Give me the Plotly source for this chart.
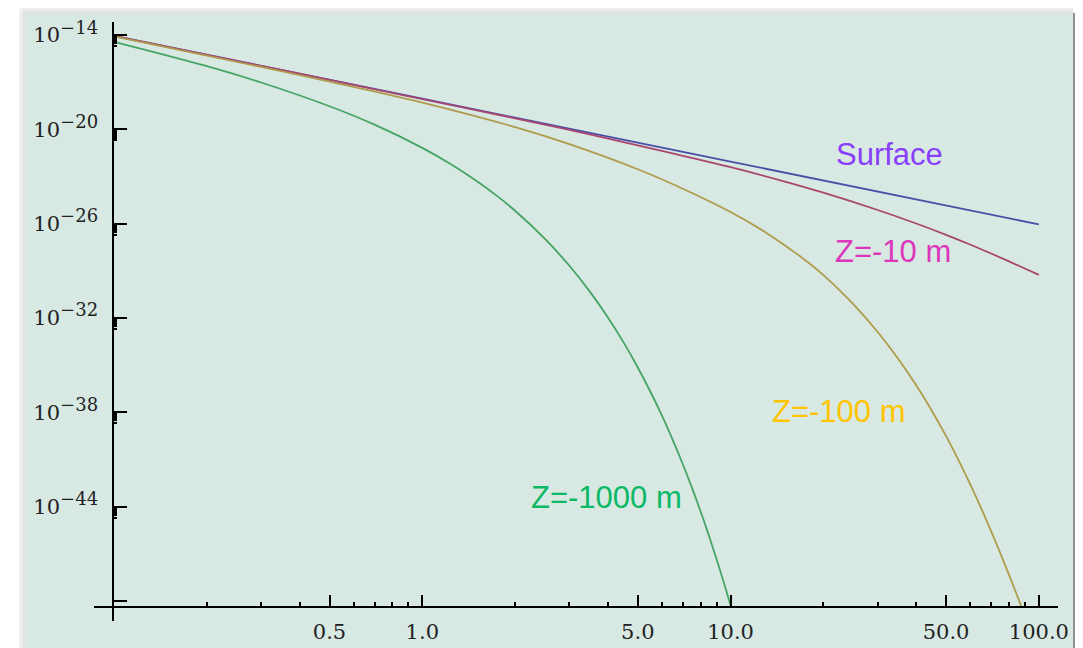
import plotly.graph_objects as go

# ---------------- data ----------------
# x: quantity on the log horizontal axis; *_log: log10 of the plotted quantity
surface_x = [0.1, 1.0, 10.0, 100.0]
surface_log = [-14.05, -18.05, -22.05, -26.05]

z10_x = [0.1, 0.3, 0.5, 1, 2, 3, 5, 7, 10, 15, 20, 30, 40, 50, 60, 70, 80, 90, 100]
z10_log = [-14.05, -15.96, -16.85, -18.07, -19.30, -20.04, -21.02, -21.68, -22.41,
           -23.32, -24.03, -25.13, -25.99, -26.71, -27.34, -27.90, -28.40, -28.85, -29.26]

z100_x = [0.1, 0.3, 0.5, 1, 2, 3, 5, 7, 10, 13, 17, 20, 25, 30, 35, 40, 45, 50,
          55, 60, 65, 70, 75, 80, 85, 87.9]
z100_log = [-14.08, -16.03, -16.96, -18.30, -19.86, -20.94, -22.54, -23.78, -25.26,
            -26.56, -28.15, -29.27, -31.12, -32.89, -34.61, -36.28, -37.92, -39.52,
            -41.09, -42.62, -44.11, -45.56, -46.97, -48.34, -49.66, -50.41]

z1000_x = [0.1, 0.2, 0.3, 0.5, 0.7, 1.0, 1.25, 1.5, 1.75, 2.0, 2.5, 3.0, 3.5, 4.0,
           4.5, 5.0, 5.5, 6.0, 6.5, 7.0, 7.5, 8.0, 8.5, 9.0, 9.5, 10.04]
z1000_log = [-14.43, -15.98, -17.02, -18.53, -19.70, -21.18, -22.27, -23.29, -24.25,
             -25.18, -26.97, -28.68, -30.34, -31.97, -33.57, -35.15, -36.71, -38.25,
             -39.79, -41.31, -42.83, -44.33, -45.83, -47.33, -48.82, -50.42]

x_tick_vals = [0.5, 1, 5, 10, 50, 100]
x_tick_text = ["0.5", "1.0", "5.0", "10.0", "50.0", "100.0"]
y_tick_exps = [-14, -20, -26, -32, -38, -44, -50]
y_label_exps = [-14, -20, -26, -32, -38, -44]

series_names = ["Surface", "Z=-10 m", "Z=-100 m", "Z=-1000 m"]

# ---------------- layout geometry ----------------
OFF = 8                      # page body margin of the html page
W, H = 1083 - OFF, 648 - OFF
ML, MR, MT, MB = 94 - OFF, 25, 22 - OFF, 27
PW, PH = W - ML - MR, H - MT - MB

BG = "#d7e9e2"
line_colors = ["#4a4fa6", "#a8466f", "#b09b4c", "#46a466"]
text_colors = ["#8a3ffa", "#dc36bc", "#ffc400", "#0db866"]


def px_x(px):  # page pixel -> paper fraction
    return (px - OFF - ML) / PW


def px_y(py):
    return (H - MB - (py - OFF)) / PH


fig = go.Figure()
all_x = [surface_x, z10_x, z100_x, z1000_x]
all_l = [surface_log, z10_log, z100_log, z1000_log]
for xs, ls, col, name in zip(all_x, all_l, line_colors, series_names):
    fig.add_trace(go.Scatter(
        x=xs, y=[10 ** v for v in ls], mode="lines", name=name,
        line=dict(color=col, width=1.8, shape="spline", smoothing=1.0),
        showlegend=False, hoverinfo="skip"))

# series labels (log10 axis units)
label_pos = [(1.514, -21.63), (1.527, -27.77), (1.350, -37.95), (0.5975, -43.45)]
for (lx, ly), name, col in zip(label_pos, series_names, text_colors):
    fig.add_annotation(x=lx, y=ly, xref="x", yref="y", text=name, showarrow=False,
                       font=dict(family="Liberation Sans, Arial, sans-serif", size=31, color=col))

# minor ticks
x_minor = []
for dec in [0.1, 1, 10]:
    for k in range(2, 10):
        v = k * dec
        if round(v, 6) not in x_tick_vals:
            x_minor.append(v)
y_minor = []
for e in y_label_exps:
    for k in range(2, 10):
        y_minor.append(k * 10.0 ** (e - 1))

serif = "DejaVu Serif, Liberation Serif, serif"

fig.update_xaxes(
    type="log", range=[-1.065, 2.062], showgrid=False, zeroline=False,
    showline=True, linecolor="black", linewidth=2,
    anchor="free", position=px_y(607.3),
    tickmode="array", tickvals=x_tick_vals, ticktext=x_tick_text,
    ticks="inside", ticklen=11, tickwidth=2, tickcolor="black",
    ticklabelstandoff=5,
    tickfont=dict(family=serif, size=21, color="#222"),
    minor=dict(tickmode="array", tickvals=x_minor, ticks="inside", ticklen=4,
               tickwidth=2, tickcolor="black", showgrid=False),
    automargin=False,
)
fig.update_yaxes(
    type="log", range=[-51.28, -13.17], showgrid=False, zeroline=False,
    showline=True, linecolor="black", linewidth=2,
    anchor="free", position=px_x(113.3),
    tickmode="array", tickvals=[10.0 ** e for e in y_tick_exps],
    ticktext=["10<sup><span style='font-size:18px'>\u2212%d</span></sup>" % (-e)
              if e in y_label_exps else " " for e in y_tick_exps],
    ticks="inside", ticklen=13, tickwidth=2, tickcolor="black",
    ticklabelstandoff=10,
    tickfont=dict(family=serif, size=21, color="#222"),
    minor=dict(tickmode="array", tickvals=y_minor, ticks="inside", ticklen=3,
               tickwidth=2, tickcolor="black", showgrid=False),
    automargin=False,
)

# background panel with soft shadow
shapes = []
for i, c in enumerate(["#8f8f8f", "#9d9d9d", "#ababab", "#b9b9b9", "#c7c7c7"]):
    shapes.append(dict(type="rect", xref="paper", yref="paper",
                       x0=px_x(1073 + 2 * i), x1=px_x(1075 + 2 * i), y0=px_y(648), y1=px_y(13 - i),
                       fillcolor=c, line=dict(width=0), layer="below"))
for i, c in enumerate(["#e2e2e2", "#ebebeb", "#f2f2f2"]):
    shapes.append(dict(type="rect", xref="paper", yref="paper",
                       x0=px_x(25 - 2 * (i + 1)), x1=px_x(1073), y0=px_y(648), y1=px_y(13 - 2 * (i + 1)),
                       fillcolor=c, line=dict(width=0), layer="below"))
shapes.sort(key=lambda s: s["fillcolor"], reverse=True)
shapes.append(dict(type="rect", xref="paper", yref="paper",
                   x0=px_x(25), x1=px_x(1073), y0=px_y(648), y1=px_y(13),
                   fillcolor=BG, line=dict(width=0), layer="below"))

fig.update_layout(
    width=W, height=H,
    margin=dict(l=ML, r=MR, t=MT, b=MB, pad=0),
    paper_bgcolor="#ffffff", plot_bgcolor="rgba(0,0,0,0)",
    shapes=shapes, showlegend=False,
)

fig.write_html("out.html")
